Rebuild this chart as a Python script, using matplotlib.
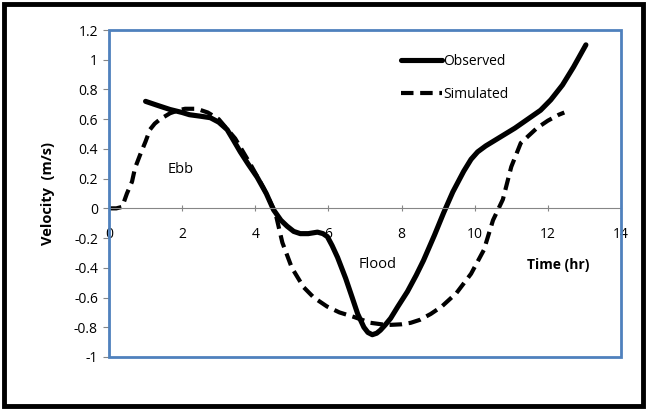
import numpy as np
import matplotlib
matplotlib.use('Agg')
import matplotlib.pyplot as plt
from matplotlib.patches import Rectangle

plt.rcParams['font.family'] = ['Open Sans', 'DejaVu Sans']

# 观测值 (时间 hr, 流速 m/s)
obs_t = [1.0, 1.3, 1.67, 2.0, 2.2, 2.5, 2.77, 3.0, 3.23, 3.4, 3.59, 3.8, 4.05, 4.3, 4.5, 4.7,
         4.87, 5.05, 5.23, 5.45, 5.7, 5.85, 5.97, 6.1, 6.25, 6.47, 6.65, 6.8, 6.97, 7.08, 7.2,
         7.32, 7.42, 7.55, 7.7, 7.9, 8.16, 8.4, 8.6, 8.9, 9.15, 9.4, 9.7, 9.9, 10.08, 10.3,
         10.5, 10.7, 11.1, 11.45, 11.8, 12.08, 12.4, 12.7, 13.04]
obs_v = [0.72, 0.695, 0.665, 0.645, 0.63, 0.62, 0.61, 0.58, 0.53, 0.46, 0.38, 0.3, 0.21, 0.1,
         -0.01, -0.08, -0.12, -0.155, -0.17, -0.17, -0.16, -0.17, -0.19, -0.25, -0.33, -0.47,
         -0.6, -0.71, -0.8, -0.835, -0.85, -0.84, -0.82, -0.785, -0.74, -0.66, -0.56, -0.45,
         -0.35, -0.18, -0.03, 0.11, 0.25, 0.33, 0.38, 0.42, 0.45, 0.48, 0.54, 0.6, 0.66, 0.73,
         0.83, 0.95, 1.1]

# 模拟值
sim_t = [0.0, 0.2, 0.36, 0.49, 0.63, 0.71, 0.85, 1.0, 1.12, 1.25, 1.4, 1.67, 1.9, 2.08, 2.4,
         2.7, 3.0, 3.45, 3.86, 4.22, 4.55, 4.74, 5.0, 5.32, 5.6, 5.96, 6.3, 6.69, 7.15, 7.6,
         8.0, 8.25, 8.5, 8.8, 9.1, 9.5, 9.9, 10.25, 10.5, 10.77, 11.0, 11.26, 11.7, 12.0,
         12.3, 12.45]
sim_v = [0.0, 0.0, 0.01, 0.1, 0.18, 0.27, 0.36, 0.45, 0.53, 0.57, 0.6, 0.64, 0.66, 0.67, 0.67,
         0.645, 0.6, 0.47, 0.3, 0.14, -0.03, -0.23, -0.4, -0.53, -0.6, -0.66, -0.7, -0.73,
         -0.77, -0.785, -0.78, -0.77, -0.75, -0.71, -0.66, -0.57, -0.44, -0.28, -0.08, 0.06,
         0.28, 0.44, 0.54, 0.59, 0.63, 0.645]

y_ticks = [-1, -0.8, -0.6, -0.4, -0.2, 0, 0.2, 0.4, 0.6, 0.8, 1, 1.2]
x_ticks = [0, 2, 4, 6, 8, 10, 12, 14]

gray = '#868686'
blue = '#4F81BD'

fig = plt.figure(figsize=(6.46, 4.09), dpi=100)
ax = fig.add_axes([109 / 646, 52 / 409, 512 / 646, 327 / 409])

ax.plot(obs_t, obs_v, color='black', lw=3.7, solid_capstyle='round', solid_joinstyle='round',
        label='Observed')
line_sim, = ax.plot(sim_t, sim_v, color='black', lw=3.0, label='Simulated')
line_sim.set_dashes((3, 1.6))

ax.set_xlim(0, 14)
ax.set_ylim(-1, 1.2)
ax.set_xticks(x_ticks)
ax.set_yticks(y_ticks)
ax.set_yticklabels(['%g' % v for v in y_ticks])

for s in ['top', 'right']:
    ax.spines[s].set_visible(False)
ax.spines['bottom'].set_position(('data', 0))
ax.spines['bottom'].set_color(gray)
ax.spines['left'].set_color(gray)
ax.tick_params(axis='x', direction='inout', length=5, color=gray, pad=11, labelsize=10)
ax.tick_params(axis='y', direction='out', length=4, color=gray, pad=4, labelsize=10)

# 蓝色绘图区边框
ax.add_patch(Rectangle((0, 0), 1, 1, transform=ax.transAxes, fill=False, edgecolor=blue,
                       lw=2, clip_on=False, zorder=5))

ax.text(1.95, 0.26, 'Ebb', fontsize=10.5, ha='center', va='center')
ax.text(7.34, -0.38, 'Flood', fontsize=10.5, ha='center', va='center')
ax.text(12.27, -0.38, 'Time (hr)', fontsize=10, fontweight='bold', ha='center', va='center')
fig.text(48 / 646, 0.526, 'Velocity  (m/s)', fontsize=10.5, fontweight='bold', rotation=90,
         ha='center', va='center')

ax.legend(frameon=False, loc='upper left', bbox_to_anchor=(0.545, 0.965), fontsize=10,
          handlelength=3.0, handletextpad=0.1, labelspacing=1.3)

# 外框
fig.patches.append(Rectangle((3.5 / 646, 3.5 / 409), 639 / 646, 402 / 409,
                             transform=fig.transFigure, fill=False, edgecolor='black', lw=3.5))

fig.savefig('out.png', dpi=100)
